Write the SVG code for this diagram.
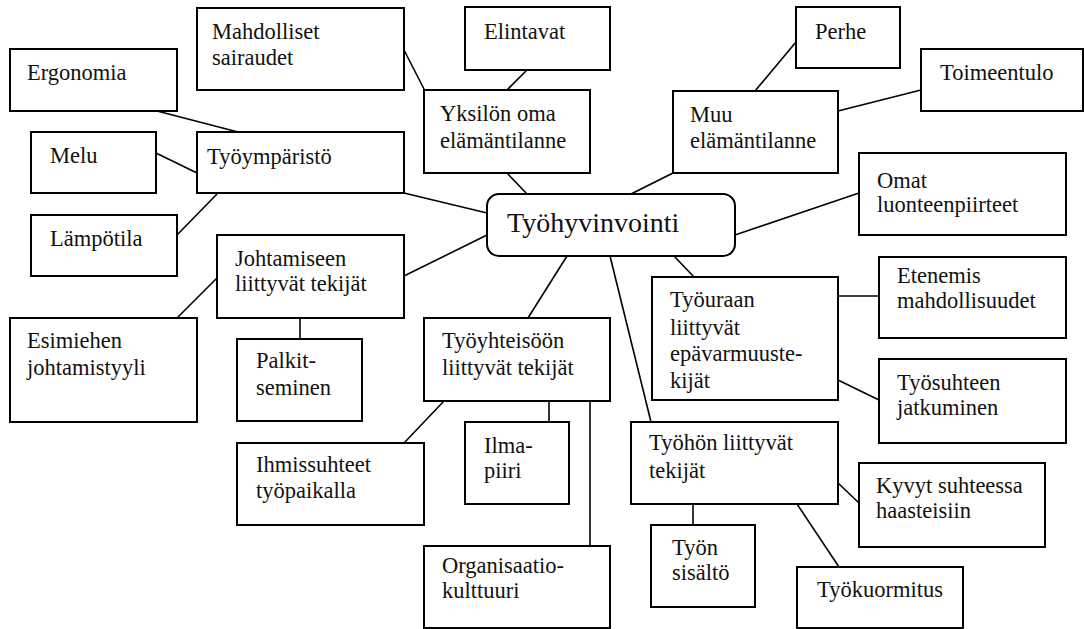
<svg xmlns="http://www.w3.org/2000/svg" width="1084" height="629" viewBox="0 0 1084 629">
<style>
.b{fill:#fff;stroke:#000;stroke-width:2}
.t{font-family:"Liberation Serif","Times New Roman",serif;font-size:22.5px;fill:#111}
.c{stroke:#000;stroke-width:1.6;fill:none}
.m{font-size:28px}
</style>
<rect width="1084" height="629" fill="#fff"/>
<g id="connectors">
<line class="c" x1="157" y1="111" x2="238" y2="132"/>
<line class="c" x1="156" y1="153" x2="197" y2="173"/>
<line class="c" x1="177" y1="235" x2="217" y2="194"/>
<line class="c" x1="404" y1="50" x2="424" y2="89"/>
<line class="c" x1="527" y1="70" x2="507" y2="90"/>
<line class="c" x1="507" y1="173" x2="527" y2="194"/>
<line class="c" x1="404" y1="193" x2="487" y2="213"/>
<line class="c" x1="796" y1="42" x2="755" y2="91"/>
<line class="c" x1="921" y1="90" x2="838" y2="111"/>
<line class="c" x1="673" y1="173" x2="631" y2="194"/>
<line class="c" x1="735" y1="235" x2="859" y2="193"/>
<line class="c" x1="404" y1="276" x2="487" y2="235"/>
<line class="c" x1="217" y1="278" x2="177" y2="318"/>
<line class="c" x1="300" y1="318" x2="300" y2="339"/>
<line class="c" x1="567" y1="256" x2="528" y2="318"/>
<line class="c" x1="610" y1="256" x2="651" y2="422"/>
<line class="c" x1="674" y1="256" x2="694" y2="277"/>
<line class="c" x1="838" y1="296" x2="879" y2="296"/>
<line class="c" x1="838" y1="380" x2="879" y2="400"/>
<line class="c" x1="444" y1="401" x2="404" y2="443"/>
<line class="c" x1="549" y1="401" x2="549" y2="422"/>
<line class="c" x1="590" y1="401" x2="590" y2="546"/>
<line class="c" x1="838" y1="483" x2="859" y2="503"/>
<line class="c" x1="797" y1="504" x2="839" y2="567"/>
<line class="c" x1="693" y1="504" x2="693" y2="525"/>
</g>
<g id="ergonomia"><rect class="b" x="10" y="49" width="167" height="62"/><text class="t" x="27" y="80">Ergonomia</text></g>
<g id="mahdolliset"><rect class="b" x="197" y="8" width="207" height="82"/><text class="t" x="212" y="39">Mahdolliset</text><text class="t" x="212" y="65">sairaudet</text></g>
<g id="elintavat"><rect class="b" x="465" y="7" width="145" height="63"/><text class="t" x="484" y="39">Elintavat</text></g>
<g id="perhe"><rect class="b" x="796" y="7" width="104" height="61"/><text class="t" x="815" y="39">Perhe</text></g>
<g id="toimeentulo"><rect class="b" x="921" y="49" width="162" height="62"/><text class="t" x="940" y="80">Toimeentulo</text></g>
<g id="tyoymparisto"><rect class="b" x="197" y="132" width="207" height="61"/><text class="t" x="207" y="164">Työympäristö</text></g>
<g id="melu"><rect class="b" x="31" y="132" width="125" height="61"/><text class="t" x="50" y="163">Melu</text></g>
<g id="yksilon"><rect class="b" x="424" y="90" width="166" height="83"/><text class="t" x="440" y="121">Yksilön oma</text><text class="t" x="440" y="148">elämäntilanne</text></g>
<g id="muu"><rect class="b" x="673" y="91" width="165" height="82"/><text class="t" x="690" y="122">Muu</text><text class="t" x="690" y="148">elämäntilanne</text></g>
<g id="tyohyvinvointi"><rect class="b" x="487" y="194" width="248" height="62" rx="12"/><text class="t m" x="507" y="232">Työhyvinvointi</text></g>
<g id="omat"><rect class="b" x="859" y="153" width="207" height="82"/><text class="t" x="877" y="188">Omat</text><text class="t" x="877" y="212">luonteenpiirteet</text></g>
<g id="lampotila"><rect class="b" x="31" y="215" width="146" height="61"/><text class="t" x="50" y="246">Lämpötila</text></g>
<g id="johtamiseen"><rect class="b" x="217" y="235" width="187" height="83"/><text class="t" x="235" y="266">Johtamiseen</text><text class="t" x="235" y="291">liittyvät tekijät</text></g>
<g id="etenemis"><rect class="b" x="879" y="257" width="187" height="81"/><text class="t" x="897" y="283">Etenemis</text><text class="t" x="897" y="308">mahdollisuudet</text></g>
<g id="tyouraan"><rect class="b" x="652" y="277" width="186" height="123"/><text class="t" x="670" y="307">Työuraan</text><text class="t" x="670" y="335">liittyvät</text><text class="t" x="670" y="361">epävarmuuste-</text><text class="t" x="670" y="388">kijät</text></g>
<g id="esimiehen"><rect class="b" x="10" y="318" width="187" height="104"/><text class="t" x="27" y="348">Esimiehen</text><text class="t" x="27" y="375">johtamistyyli</text></g>
<g id="palkitseminen"><rect class="b" x="237" y="339" width="125" height="82"/><text class="t" x="256" y="368">Palkit-</text><text class="t" x="256" y="395">seminen</text></g>
<g id="tyoyhteisoon"><rect class="b" x="424" y="318" width="186" height="83"/><text class="t" x="442" y="348">Työyhteisöön</text><text class="t" x="442" y="375">liittyvät tekijät</text></g>
<g id="tyosuhteen"><rect class="b" x="879" y="359" width="187" height="84"/><text class="t" x="897" y="390">Työsuhteen</text><text class="t" x="897" y="415">jatkuminen</text></g>
<g id="ihmissuhteet"><rect class="b" x="237" y="443" width="187" height="82"/><text class="t" x="256" y="472">Ihmissuhteet</text><text class="t" x="256" y="498">työpaikalla</text></g>
<g id="ilmapiiri"><rect class="b" x="465" y="422" width="104" height="82"/><text class="t" x="484" y="453">Ilma-</text><text class="t" x="484" y="478">piiri</text></g>
<g id="tyohon"><rect class="b" x="631" y="422" width="207" height="82"/><text class="t" x="649" y="450">Työhön liittyvät</text><text class="t" x="649" y="478">tekijät</text></g>
<g id="kyvyt"><rect class="b" x="859" y="463" width="186" height="84"/><text class="t" x="876" y="493">Kyvyt suhteessa</text><text class="t" x="876" y="518">haasteisiin</text></g>
<g id="tyonsisalto"><rect class="b" x="651" y="525" width="104" height="82"/><text class="t" x="672" y="555">Työn</text><text class="t" x="672" y="580">sisältö</text></g>
<g id="organisaatio"><rect class="b" x="424" y="546" width="186" height="82"/><text class="t" x="442" y="573">Organisaatio-</text><text class="t" x="442" y="598">kulttuuri</text></g>
<g id="tyokuormitus"><rect class="b" x="797" y="567" width="166" height="61"/><text class="t" x="817" y="597">Työkuormitus</text></g>
</svg>
